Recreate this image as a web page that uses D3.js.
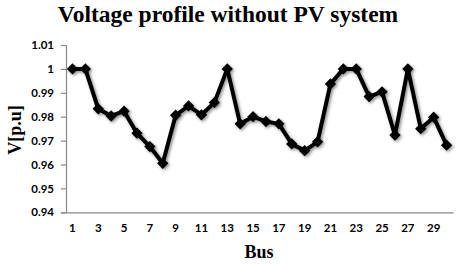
<!DOCTYPE html>
<html><head><meta charset="utf-8">
<script src="https://cdn.jsdelivr.net/npm/d3@7"></script>
<style>body{margin:0;background:#fff}svg{display:block}</style>
</head><body>
<svg id="c" width="456" height="266"></svg>
<script>
const buses = d3.range(1, 31);
const voltages = [1.000,1.000,0.9833,0.9803,0.9823,0.9731,0.9675,0.9605,0.9806,0.9845,
  0.9808,0.9859,1.000,0.9770,0.9800,0.9780,0.9770,0.9686,0.9658,0.9695,
  0.9937,1.000,1.000,0.9884,0.9904,0.9723,1.000,0.9750,0.9798,0.9681];
const yTicks = [0.94,0.95,0.96,0.97,0.98,0.99,1.00,1.01];
const xTickLabels = buses.filter(b => b % 2 === 1);
const title = "Voltage profile without PV system";
const xTitle = "Bus";
const yTitle = "V[p.u]";

const svg = d3.select("#c");
const L = 66, R = 453, T = 45, B = 212.3;
const x = d3.scaleBand().domain(buses).range([L, R]);
const y = d3.scaleLinear().domain([0.94, 1.01]).range([B, T]);

const defs = svg.append("defs");
const f = defs.append("filter").attr("id","sh").attr("x","-20%").attr("y","-20%").attr("width","140%").attr("height","140%");
f.append("feDropShadow").attr("dx",1.5).attr("dy",1.5).attr("stdDeviation",1.5).attr("flood-color","#000").attr("flood-opacity",0.45);

svg.append("text").attr("x", 228).attr("y", 22).attr("text-anchor","middle")
  .style("font-family","'Liberation Serif', 'Times New Roman', serif").style("font-weight","bold").style("font-size","23.5px")
  .text(title);

// y axis
const ya = svg.append("g").attr("transform",`translate(${L},0)`)
  .call(d3.axisLeft(y).tickValues(yTicks).tickSize(5).tickPadding(7).tickFormat(d => d3.format("")(+d.toFixed(2))));
ya.select(".domain").attr("stroke","#888").attr("stroke-width",1.2);
ya.selectAll(".tick line").attr("stroke","#888").attr("stroke-width",1.2);
ya.selectAll("text").style("font-family","Lato, 'Open Sans', sans-serif").style("font-weight","bold").style("font-size","11.5px").attr("fill","#000");

// x axis
const xa = svg.append("g").attr("transform",`translate(0,${B})`)
  .call(d3.axisBottom(x).tickValues(xTickLabels).tickSize(0).tickPadding(12).tickSizeOuter(0));
xa.select(".domain").attr("stroke","#888").attr("stroke-width",1.2);
xa.selectAll("text").style("font-family","Lato, 'Open Sans', sans-serif").style("font-weight","bold").style("font-size","11.5px").attr("fill","#000");

svg.append("text").attr("x", 259).attr("y", 258).attr("text-anchor","middle")
  .style("font-family","'Liberation Serif', 'Times New Roman', serif").style("font-weight","bold").style("font-size","18px")
  .text(xTitle);
svg.append("text").attr("transform","translate(21,130) rotate(-90)").attr("text-anchor","middle")
  .style("font-family","'Liberation Serif', 'Times New Roman', serif").style("font-weight","bold").style("font-size","18px")
  .text(yTitle);

const cx = d => x(d) + x.bandwidth()/2;
const g = svg.append("g").attr("filter","url(#sh)");
g.append("path").datum(buses)
  .attr("fill","none").attr("stroke","#000").attr("stroke-width",4).attr("stroke-linejoin","round")
  .attr("d", d3.line().x(d => cx(d)).y((d,i) => y(voltages[i])));
g.selectAll("path.m").data(buses).join("path").attr("class","m")
  .attr("d", d3.symbol(d3.symbolSquare, 64))
  .attr("transform",(d,i) => `translate(${cx(d)},${y(voltages[i])}) rotate(45)`)
  .attr("fill","#000");
</script>
</body></html>
